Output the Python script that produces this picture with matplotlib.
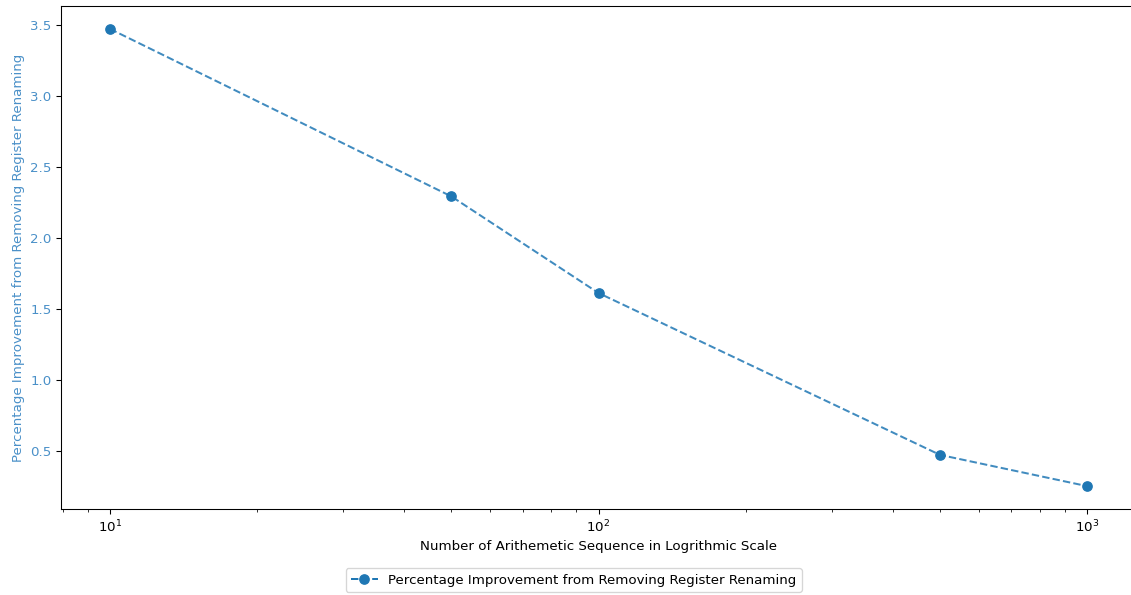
import matplotlib.pyplot as plt

seq_len = [10, 50, 100, 500, 1000]
improvement = [3.47, 2.29, 1.61, 0.47, 0.25]
series_label = "Percentage Improvement from Removing Register Renaming"

W, H = 1131, 595
fig, ax = plt.subplots(figsize=(W / 96, H / 96), dpi=96)
# axes run a little past the right edge of the canvas
fig.subplots_adjust(left=61 / W, right=1136 / W, top=1 - 6 / H, bottom=1 - 509 / H)

label_blue = "#4a90c8"

ax.plot(seq_len, improvement, linestyle="--", color="tab:blue", alpha=0.85, linewidth=1.5)
ax.plot(seq_len, improvement, linestyle="none", marker="o", markersize=7, color="tab:blue")

ax.set_xscale("log")
ax.set_xlabel("Number of Arithemetic Sequence in Logrithmic Scale")
ax.set_ylabel("Percentage Improvement from Removing Register Renaming", color=label_blue)
ax.tick_params(axis="y", labelcolor=label_blue)
ax.spines["right"].set_visible(False)

handle = plt.Line2D([], [], linestyle="--", marker="o", markersize=7, color="tab:blue")
ax.legend([handle], [series_label], loc="upper center", bbox_to_anchor=(0.477, -0.105),
          handlelength=2.0)

fig.savefig("out.png", dpi=96)
